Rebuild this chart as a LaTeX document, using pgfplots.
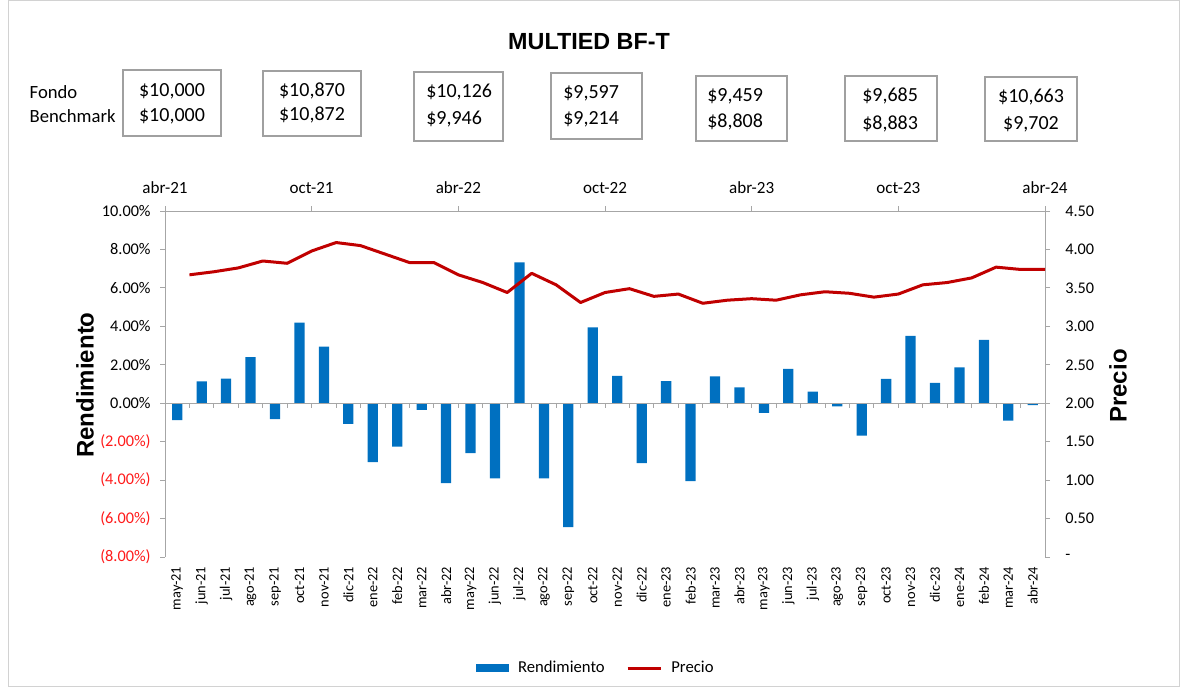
\documentclass[border=0pt]{standalone}
\usepackage{fontspec}
\setmainfont{Carlito}
\newfontfamily\arialf{Liberation Sans}
\usepackage{pgfplots}
\usepackage{pgfplotstable}
\pgfplotsset{compat=1.18}
\definecolor{barblue}{HTML}{0070C0}
\definecolor{linered}{HTML}{C00000}
\definecolor{axgray}{HTML}{A6A6A6}
\definecolor{negred}{HTML}{FF1A1A}
\definecolor{boxgray}{HTML}{A0A0A0}

\pgfplotstableread{
idx rend
0 -0.88
1 1.14
2 1.28
3 2.40
4 -0.83
5 4.19
6 2.95
7 -1.08
8 -3.06
9 -2.26
10 -0.35
11 -4.16
12 -2.59
13 -3.91
14 7.33
15 -3.91
16 -6.45
17 3.95
18 1.42
19 -3.11
20 1.15
21 -4.05
22 1.40
23 0.82
24 -0.50
25 1.79
26 0.61
27 -0.16
28 -1.69
29 1.27
30 3.51
31 1.06
32 1.86
33 3.30
34 -0.90
35 -0.10
}\rendtable

\pgfplotstableread{
pos precio
0.5 3.67
1.5 3.71
2.5 3.76
3.5 3.85
4.5 3.82
5.5 3.98
6.5 4.09
7.5 4.05
8.5 3.94
9.5 3.83
10.5 3.83
11.5 3.67
12.5 3.57
13.5 3.44
14.5 3.69
15.5 3.54
16.5 3.31
17.5 3.44
18.5 3.49
19.5 3.39
20.5 3.42
21.5 3.30
22.5 3.34
23.5 3.36
24.5 3.34
25.5 3.41
26.5 3.45
27.5 3.43
28.5 3.38
29.5 3.42
30.5 3.54
31.5 3.57
32.5 3.63
33.5 3.77
34.5 3.74
35.5 3.74
}\preciotable

\begin{document}
\begin{tikzpicture}
\begin{scope}[x=0.75pt,y=-0.75pt]
\useasboundingbox (0,0) rectangle (1180,687);
\draw[color=gray!35, line width=0.75pt] (8,0.5) rectangle (1179.5,686.5);
\node[font=\arialf\bfseries\fontsize{17.5}{20}\selectfont] at (589,42) {MULTIED BF-T};
\node[anchor=west, font=\fontsize{14}{16}\selectfont] at (25,92) {Fondo};
\node[anchor=west, font=\fontsize{14}{16}\selectfont] at (25,116) {Benchmark};
\begin{scope}[boxgray, line width=1.1pt]
\draw (123,70) rectangle (221,136);
\draw (263,71) rectangle (361,136);
\draw (414,72) rectangle (503,141);
\draw (551,73) rectangle (642,139);
\draw (696,76) rectangle (787,141);
\draw (845,76) rectangle (937,141);
\draw (985,77) rectangle (1077,141);
\end{scope}
\begin{scope}[every node/.style={font=\fontsize{15}{17}\selectfont, inner sep=0pt}]
\node at (172,91) {\$10,000};
\node at (172,116) {\$10,000};
\node at (312,91) {\$10,870};
\node at (312,115) {\$10,872};
\node[anchor=west] at (426,92) {\$10,126};
\node[anchor=west] at (426,119) {\$9,946};
\node[anchor=west] at (563,93) {\$9,597};
\node[anchor=west] at (563,119) {\$9,214};
\node[anchor=west] at (707,96) {\$9,459};
\node[anchor=west] at (707,122) {\$8,808};
\node[anchor=west] at (862,96) {\$9,685};
\node[anchor=west] at (862,124) {\$8,883};
\node at (1031,97) {\$10,663};
\node at (1031,124) {\$9,702};
\end{scope}
\node[rotate=90, font=\arialf\bfseries\fontsize{18}{20}\selectfont] at (85,385) {Rendimiento};
\node[rotate=90, font=\arialf\bfseries\fontsize{18}{20}\selectfont] at (1118,386) {Precio};
\end{scope}

\begin{axis}[
  at={(123.75pt,-417.75pt)}, anchor=south west,
  scale only axis, width=660pt, height=259.5pt,
  xmin=-0.5, xmax=35.5, ymin=-8, ymax=10,
  axis x line*=bottom, axis y line*=left,
  x axis line style={draw=none},
  y axis line style={draw=axgray, line width=0.75pt},
  xtick={0,...,35},
  xticklabels={may-21,jun-21,jul-21,ago-21,sep-21,oct-21,nov-21,dic-21,ene-22,feb-22,mar-22,abr-22,may-22,jun-22,jul-22,ago-22,sep-22,oct-22,nov-22,dic-22,ene-23,feb-23,mar-23,abr-23,may-23,jun-23,jul-23,ago-23,sep-23,oct-23,nov-23,dic-23,ene-24,feb-24,mar-24,abr-24},
  xticklabel style={rotate=90, anchor=east, font=\fontsize{10.8}{12}\selectfont},
  x tick style={draw=none},
  ytick={-8,-6,-4,-2,0,2,4,6,8,10},
  yticklabels={\textcolor{negred}{(8.00\%)},\textcolor{negred}{(6.00\%)},\textcolor{negred}{(4.00\%)},\textcolor{negred}{(2.00\%)},0.00\%,2.00\%,4.00\%,6.00\%,8.00\%,10.00\%},
  tick align=outside,
  major tick length=3.75pt,
  y tick style={axgray, line width=0.75pt},
  yticklabel style={font=\fontsize{12.2}{14}\selectfont, xshift=-3.5pt},
  clip=false,
]
\addplot[ybar, bar width=0.42, bar shift=0pt, fill=barblue, draw=none] table[x=idx,y=rend]{\rendtable};
\draw[axgray, line width=0.75pt] (axis cs:-0.5,0) -- (axis cs:35.5,0);
\pgfplotsinvokeforeach{0.5,1.5,...,34.5}{
  \draw[axgray, line width=0.75pt] (axis cs:#1,0) -- ++(0pt,-3.75pt);
}
\end{axis}

\begin{axis}[
  at={(123.75pt,-417.75pt)}, anchor=south west,
  scale only axis, width=660pt, height=259.5pt,
  xmin=-0.5, xmax=35.5, ymin=0, ymax=4.5,
  axis x line*=top, axis y line*=right,
  axis line style={draw=axgray, line width=0.75pt},
  xtick={-0.5,5.5,11.5,17.5,23.5,29.5,35.5},
  xticklabels={abr-21,oct-21,abr-22,oct-22,abr-23,oct-23,abr-24},
  ytick={0,0.5,1,1.5,2,2.5,3,3.5,4,4.5},
  yticklabels={-,0.50,1.00,1.50,2.00,2.50,3.00,3.50,4.00,4.50},
  tick align=outside,
  major tick length=3.75pt,
  tick style={axgray, line width=0.75pt},
  xticklabel style={font=\fontsize{12.8}{14}\selectfont, yshift=6pt},
  yticklabel style={font=\fontsize{12.2}{14}\selectfont, xshift=8pt},
  legend columns=2,
  legend style={at={(0.49,-0.321)}, anchor=center, draw=none, fill=none,
    font=\fontsize{12.5}{14}\selectfont,
    /tikz/every odd column/.append style={column sep=5pt},
    /tikz/every even column/.append style={column sep=14pt}},
  clip=false,
]
\addlegendimage{legend image code/.code={\fill[barblue] (0pt,-2.6pt) rectangle (24pt,2.6pt);}}
\addlegendentry{Rendimiento}
\addplot[linered, line width=2.25pt, line join=round, no marks,
  legend image code/.code={\draw[linered, line width=2.25pt] (0pt,0pt) -- (24.75pt,0pt);}]
  table[x=pos,y=precio]{\preciotable};
\addlegendentry{Precio}
\end{axis}
\end{tikzpicture}
\end{document}
